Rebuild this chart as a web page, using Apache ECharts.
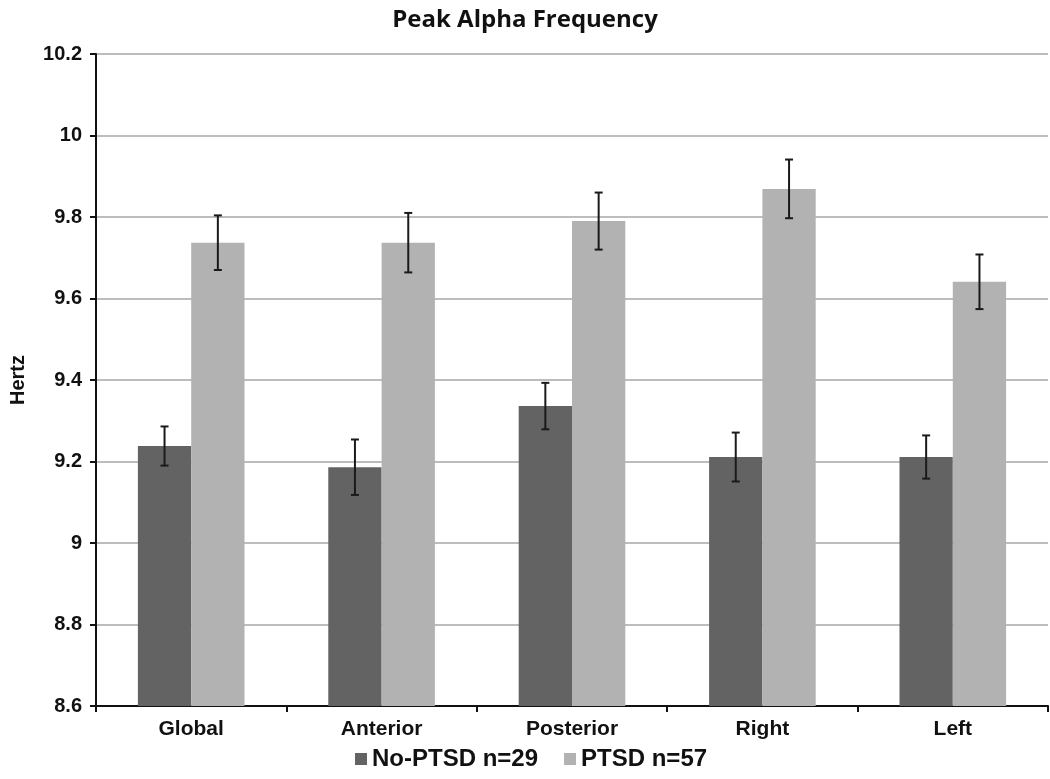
<!DOCTYPE html>
<html>
<head>
<meta charset="utf-8">
<script src="https://cdn.jsdelivr.net/npm/echarts@6/dist/echarts.min.js"></script>
<style>
html,body{margin:0;padding:0;background:#fff;}
#chart{width:1050px;height:779px;}
</style>
</head>
<body>
<div id="chart"></div>
<script>
const categories = ['Global', 'Anterior', 'Posterior', 'Right', 'Left'];
const seriesNames = ['No-PTSD n=29', 'PTSD n=57'];
const noPtsdValues = [9.238, 9.186, 9.336, 9.211, 9.211];
const noPtsdErrors = [0.048, 0.068, 0.057, 0.060, 0.053];
const ptsdValues = [9.737, 9.737, 9.790, 9.869, 9.641];
const ptsdErrors = [0.067, 0.073, 0.070, 0.072, 0.067];
const yTicks = [8.6, 8.8, 9, 9.2, 9.4, 9.6, 9.8, 10, 10.2];

const BAR_FRAC = 0.28;
const fontFam = "'Liberation Sans', Arial, sans-serif";

function errData(vals, errs) {
  return vals.map((v, i) => [i, v - errs[i], v + errs[i]]);
}
function errSeries(vals, errs, sideSign) {
  return {
    type: 'custom',
    data: errData(vals, errs),
    z: 10,
    silent: true,
    renderItem: function (params, api) {
      const idx = api.value(0);
      const lo = api.coord([idx, api.value(1)]);
      const hi = api.coord([idx, api.value(2)]);
      const cw = api.size([1, 0])[0];
      const x = lo[0] + sideSign * cw * BAR_FRAC / 2;
      const cap = 4;
      const st = { stroke: '#1a1a1a', lineWidth: 2 };
      return {
        type: 'group',
        children: [
          { type: 'line', shape: { x1: x, y1: lo[1], x2: x, y2: hi[1] }, style: st },
          { type: 'line', shape: { x1: x - cap, y1: lo[1], x2: x + cap, y2: lo[1] }, style: st },
          { type: 'line', shape: { x1: x - cap, y1: hi[1], x2: x + cap, y2: hi[1] }, style: st }
        ]
      };
    }
  };
}

const chart = echarts.init(document.getElementById('chart'), null, { renderer: 'canvas' });
chart.setOption({
  backgroundColor: '#fff',
  animation: false,
  title: {
    text: 'Peak Alpha Frequency',
    left: 'center',
    top: 3,
    textStyle: { fontFamily: "'Open Sans', Lato, sans-serif", fontSize: 24, fontWeight: 'bold', color: '#111' }
  },
  legend: {
    data: seriesNames,
    bottom: 3,
    left: 350,
    icon: 'rect',
    itemWidth: 12,
    itemHeight: 12,
    itemGap: 26,
    textStyle: { fontFamily: fontFam, fontSize: 24, fontWeight: 'bold', color: '#111' }
  },
  grid: { left: 90, right: 2, top: 54, bottom: 73, containLabel: false },
  xAxis: {
    type: 'category',
    data: categories,
    axisLine: { lineStyle: { color: '#111', width: 2 } },
    axisTick: { show: true, length: 6, lineStyle: { color: '#111', width: 2 } },
    axisLabel: { fontFamily: fontFam, fontSize: 21, fontWeight: 'bold', color: '#111', margin: 13 },
    splitLine: { show: false }
  },
  yAxis: {
    type: 'value',
    min: 8.6,
    max: 10.2,
    interval: 0.2,
    name: 'Hertz',
    nameLocation: 'middle',
    nameGap: 68,
    nameRotate: 90,
    nameTextStyle: { fontFamily: fontFam, fontSize: 20, fontWeight: 'bold', color: '#111' },
    axisLine: { show: true, lineStyle: { color: '#111', width: 2 } },
    axisTick: { show: true, length: 6, lineStyle: { color: '#111', width: 2 } },
    axisLabel: {
      fontFamily: fontFam, fontSize: 20, fontWeight: 'bold', color: '#111', margin: 14,
      formatter: function (v) {
        const r = Math.round(v * 10) / 10;
        const t = yTicks.find(x => Math.abs(x - r) < 1e-6);
        return t !== undefined ? String(t) : '';
      }
    },
    splitLine: { show: true, lineStyle: { color: '#bdbdbd', width: 2 } }
  },
  series: [
    {
      name: seriesNames[0], type: 'bar', data: noPtsdValues,
      barWidth: (BAR_FRAC * 100) + '%', barGap: '0%',
      itemStyle: { color: '#636363' }
    },
    {
      name: seriesNames[1], type: 'bar', data: ptsdValues,
      barWidth: (BAR_FRAC * 100) + '%', barGap: '0%',
      itemStyle: { color: '#b2b2b2' }
    },
    errSeries(noPtsdValues, noPtsdErrors, -1),
    errSeries(ptsdValues, ptsdErrors, 1)
  ]
});
</script>
</body>
</html>
